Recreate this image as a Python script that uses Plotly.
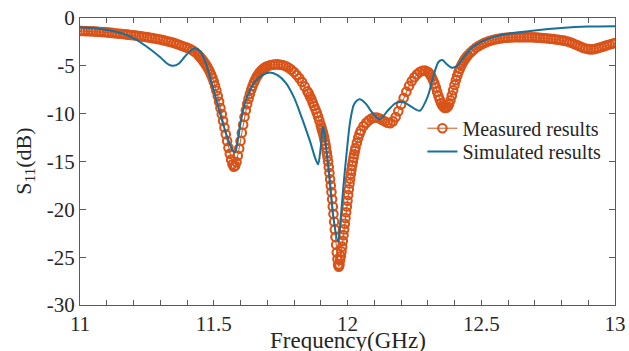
import plotly.graph_objects as go

# ---- Measured S11 ----
meas_freq = [
    11.00, 11.01, 11.02, 11.03, 11.04, 11.05, 11.06, 11.07, 11.08, 11.09,
    11.10, 11.11, 11.12, 11.13, 11.14, 11.15, 11.16, 11.17, 11.18, 11.19,
    11.20, 11.21, 11.22, 11.23, 11.24, 11.25, 11.26, 11.27, 11.28, 11.29,
    11.30, 11.31, 11.32, 11.33, 11.34, 11.35, 11.36, 11.37, 11.38, 11.39,
    11.40, 11.41, 11.42, 11.43, 11.44,
    11.445, 11.450, 11.455, 11.460, 11.465, 11.470, 11.475, 11.480, 11.485, 11.490,
    11.495, 11.500, 11.505, 11.510, 11.515, 11.520, 11.525, 11.530, 11.535, 11.540,
    11.545, 11.550, 11.555, 11.560, 11.565, 11.570, 11.575, 11.580, 11.585, 11.590,
    11.595, 11.600, 11.605, 11.610, 11.615, 11.620, 11.625, 11.630, 11.635, 11.640,
    11.645, 11.650, 11.655, 11.660, 11.665, 11.670, 11.675, 11.680, 11.685, 11.690,
    11.695, 11.700,
    11.71, 11.72, 11.73, 11.74, 11.75, 11.76, 11.77, 11.78, 11.79, 11.80,
    11.81, 11.82, 11.83, 11.84, 11.85,
    11.855, 11.860, 11.865, 11.870, 11.875, 11.880, 11.885, 11.890, 11.895, 11.900,
    11.9025, 11.905, 11.9075, 11.910, 11.9125, 11.915, 11.9175, 11.920, 11.9225, 11.925,
    11.9275, 11.930, 11.9325, 11.935, 11.9375, 11.940, 11.9425, 11.945, 11.9475, 11.950,
    11.9525, 11.955, 11.9575, 11.960, 11.9625, 11.965, 11.9675, 11.970, 11.9725, 11.975,
    11.9775, 11.980, 11.9825, 11.985, 11.9875, 11.990, 11.9925, 11.995, 11.9975, 12.000,
    12.0025, 12.005, 12.0075, 12.010, 12.0125, 12.015, 12.0175, 12.020, 12.0225, 12.025,
    12.0275, 12.030, 12.035, 12.040, 12.045, 12.050,
    12.06, 12.07, 12.08, 12.09, 12.10, 12.11, 12.12, 12.13, 12.14, 12.15,
    12.16, 12.17, 12.18, 12.19, 12.20, 12.21, 12.22, 12.23, 12.24, 12.25,
    12.26, 12.27, 12.28, 12.29, 12.30,
    12.305, 12.310, 12.315, 12.320, 12.325, 12.330, 12.335, 12.340, 12.345, 12.350,
    12.355, 12.360, 12.365, 12.370, 12.375, 12.380, 12.385, 12.390, 12.395, 12.400,
    12.405, 12.410, 12.415, 12.420, 12.425, 12.430, 12.435, 12.440, 12.445, 12.450,
    12.46, 12.47, 12.48, 12.49, 12.50, 12.51, 12.52, 12.53, 12.54, 12.55,
    12.56, 12.57, 12.58, 12.59, 12.60, 12.61, 12.62, 12.63, 12.64, 12.65,
    12.66, 12.67, 12.68, 12.69, 12.70, 12.71, 12.72, 12.73, 12.74, 12.75,
    12.76, 12.77, 12.78, 12.79, 12.80, 12.81, 12.82, 12.83, 12.84, 12.85,
    12.86, 12.87, 12.88, 12.89, 12.90, 12.91, 12.92, 12.93, 12.94, 12.95,
    12.96, 12.97, 12.98, 12.99, 13.00,
]
meas_s11 = [
    -1.35, -1.36, -1.37, -1.38, -1.39, -1.40, -1.42, -1.44, -1.46, -1.48,
    -1.50, -1.53, -1.56, -1.59, -1.62, -1.65, -1.68, -1.71, -1.74, -1.77,
    -1.80, -1.84, -1.88, -1.92, -1.96, -2.00, -2.05, -2.10, -2.15, -2.20,
    -2.25, -2.31, -2.38, -2.45, -2.52, -2.60, -2.69, -2.79, -2.90, -3.00,
    -3.10, -3.22, -3.38, -3.56, -3.80,
    -3.95, -4.10, -4.28, -4.45, -4.65, -4.85, -5.08, -5.32, -5.60, -5.90,
    -6.25, -6.65, -7.10, -7.60, -8.15, -8.75, -9.40, -10.05, -10.75, -11.45,
    -12.15, -12.85, -13.55, -14.20, -14.80, -15.30, -15.55, -15.45, -15.05, -14.40,
    -13.65, -12.85, -12.00, -11.15, -10.35, -9.65, -9.00, -8.45, -7.95, -7.50,
    -7.10, -6.75, -6.45, -6.18, -5.95, -5.75, -5.58, -5.43, -5.30, -5.20,
    -5.11, -5.04,
    -4.94, -4.88, -4.85, -4.85, -4.88, -4.94, -5.05, -5.20, -5.40, -5.65,
    -5.95, -6.30, -6.70, -7.15, -7.65,
    -7.90, -8.20, -8.50, -8.85, -9.20, -9.55, -9.90, -10.30, -10.75, -11.20,
    -11.45, -11.70, -11.95, -12.20, -12.50, -12.85, -13.20, -13.60, -14.05, -14.50,
    -15.00, -15.60, -16.20, -16.85, -17.50, -18.20, -18.95, -19.70, -20.50, -21.30,
    -22.10, -22.90, -23.70, -24.50, -25.20, -25.80, -26.00, -25.80, -25.30, -24.90,
    -24.40, -23.90, -23.30, -22.70, -22.10, -21.50, -20.90, -20.30, -19.70, -19.10,
    -18.50, -17.90, -17.30, -16.80, -16.30, -15.85, -15.40, -15.00, -14.60, -14.25,
    -13.90, -13.60, -13.05, -12.55, -12.10, -11.75,
    -11.30, -10.95, -10.70, -10.50, -10.40, -10.40, -10.50, -10.65, -10.82, -10.95,
    -11.00, -10.80, -10.35, -9.75, -9.05, -8.35, -7.70, -7.10, -6.60, -6.20,
    -5.88, -5.65, -5.52, -5.50, -5.62,
    -5.75, -5.95, -6.20, -6.50, -6.85, -7.25, -7.70, -8.15, -8.55, -8.90,
    -9.15, -9.32, -9.40, -9.38, -9.25, -9.00, -8.60, -8.10, -7.55, -7.00,
    -6.50, -6.05, -5.65, -5.30, -5.00, -4.72, -4.48, -4.27, -4.08, -3.90,
    -3.60, -3.35, -3.12, -2.93, -2.77, -2.63, -2.51, -2.41, -2.32, -2.25,
    -2.19, -2.14, -2.10, -2.07, -2.05, -2.03, -2.02, -2.01, -2.00, -2.00,
    -2.00, -2.00, -2.01, -2.02, -2.03, -2.05, -2.07, -2.09, -2.11, -2.14,
    -2.17, -2.20, -2.24, -2.28, -2.32, -2.37, -2.43, -2.52, -2.62, -2.74,
    -2.86, -2.98, -3.10, -3.19, -3.25, -3.28, -3.26, -3.20, -3.12, -3.03,
    -2.94, -2.85, -2.77, -2.69, -2.62,
]

# ---- Simulated S11 ----
sim_freq = [
    11.00, 11.05, 11.10, 11.15, 11.20, 11.25, 11.30, 11.33, 11.35, 11.37,
    11.39, 11.41, 11.43, 11.45, 11.47, 11.49, 11.51, 11.53, 11.55, 11.57,
    11.58, 11.59, 11.60, 11.62, 11.65, 11.68, 11.71, 11.74, 11.77, 11.80,
    11.83, 11.86, 11.88, 11.89, 11.90, 11.908, 11.915, 11.92, 11.93, 11.947,
    11.965, 11.975, 11.985, 12.00, 12.01, 12.025, 12.045, 12.07, 12.09, 12.12,
    12.15, 12.18, 12.21, 12.24, 12.27, 12.30, 12.32, 12.34, 12.355, 12.37,
    12.39, 12.41, 12.44, 12.47, 12.50, 12.55, 12.60, 12.70, 12.80, 12.90,
    13.00,
]
sim_s11 = [
    -1.00, -1.05, -1.25, -1.55, -2.10, -3.00, -4.10, -4.85, -5.00, -4.75,
    -4.10, -3.50, -3.20, -3.50, -4.70, -6.60, -8.60, -10.60, -12.40, -13.80,
    -14.00, -12.80, -11.00, -8.60, -6.80, -6.00, -5.70, -6.00, -6.80, -8.30,
    -10.50, -12.90, -14.70, -15.30, -13.50, -11.40, -12.20, -13.50, -16.00, -20.80,
    -23.40, -20.80, -17.50, -13.20, -10.80, -9.00, -8.50, -9.00, -9.80, -10.60,
    -9.70, -8.90, -8.80, -9.30, -9.70, -8.20, -6.20, -4.60, -4.40, -4.80,
    -5.20, -5.00, -3.90, -3.00, -2.50, -1.95, -1.65, -1.30, -1.05, -0.90,
    -0.85,
]

x_ticks = [11, 11.5, 12, 12.5, 13]
x_tick_labels = ["11", "11.5", "12", "12.5", "13"]
y_ticks = [0, -5, -10, -15, -20, -25, -30]
y_tick_labels = ["0", "-5", "-10", "-15", "-20", "-25", "-30"]
x_title = "Frequency(GHz)"
y_title = "S<sub>11</sub>(dB)"

ORANGE = "#D95319"
BLUE = "#16709A"
AXIS = "#5a5a5a"
TEXT = "#262626"
FONT = "Liberation Serif"

fig = go.Figure()
fig.add_trace(go.Scatter(
    x=meas_freq, y=meas_s11, name="Measured results",
    mode="lines+markers",
    line=dict(color=ORANGE, width=1),
    marker=dict(symbol="circle-open", size=8.5, color=ORANGE, line=dict(width=2.1)),
    legend="legend",
))
fig.add_trace(go.Scatter(
    x=sim_freq, y=sim_s11, name="Simulated results",
    mode="lines",
    line=dict(color=BLUE, width=2, shape="spline", smoothing=0.8),
    legend="legend2",
))

legend_common = dict(
    xanchor="left", yanchor="middle",
    bgcolor="rgba(255,255,255,0)", borderwidth=0,
    font=dict(family=FONT, size=20, color=TEXT),
    itemwidth=30,
)

fig.update_layout(
    width=629, height=351,
    margin=dict(l=80, r=14, t=18, b=46),
    paper_bgcolor="white", plot_bgcolor="white",
    font=dict(family=FONT, size=20, color=TEXT),
    showlegend=True,
    legend=dict(x=0.64, y=0.616, **legend_common),
    legend2=dict(x=0.64, y=0.535, **legend_common),
    xaxis=dict(
        range=[11, 13], tickvals=x_ticks, ticktext=x_tick_labels,
        showgrid=False, zeroline=False, automargin=False,
        showline=True, linecolor=AXIS, linewidth=1.2, mirror="allticks",
        ticks="inside", ticklen=5, tickcolor=AXIS, tickwidth=1,
        minor=dict(dtick=0.1, ticks="inside", ticklen=5, tickcolor=AXIS, tickwidth=1),
        tickfont=dict(family=FONT, size=21, color=TEXT),
    ),
    yaxis=dict(
        range=[-30, 0], tickvals=y_ticks, ticktext=y_tick_labels,
        showgrid=False, zeroline=False, automargin=False,
        showline=True, linecolor=AXIS, linewidth=1.2, mirror="allticks",
        ticks="inside", ticklen=6, tickcolor=AXIS, tickwidth=1,
        tickfont=dict(family=FONT, size=21, color=TEXT),
    ),
    annotations=[
        dict(text=x_title, xref="paper", yref="paper", x=0.5, y=-0.124,
             xanchor="center", yanchor="middle", showarrow=False,
             font=dict(family=FONT, size=23, color=TEXT)),
        dict(text=y_title, xref="paper", yref="paper", x=-0.104, y=0.5,
             xanchor="center", yanchor="middle", textangle=-90, showarrow=False,
             font=dict(family=FONT, size=22, color=TEXT)),
    ],
)

fig.write_html("out.html")
